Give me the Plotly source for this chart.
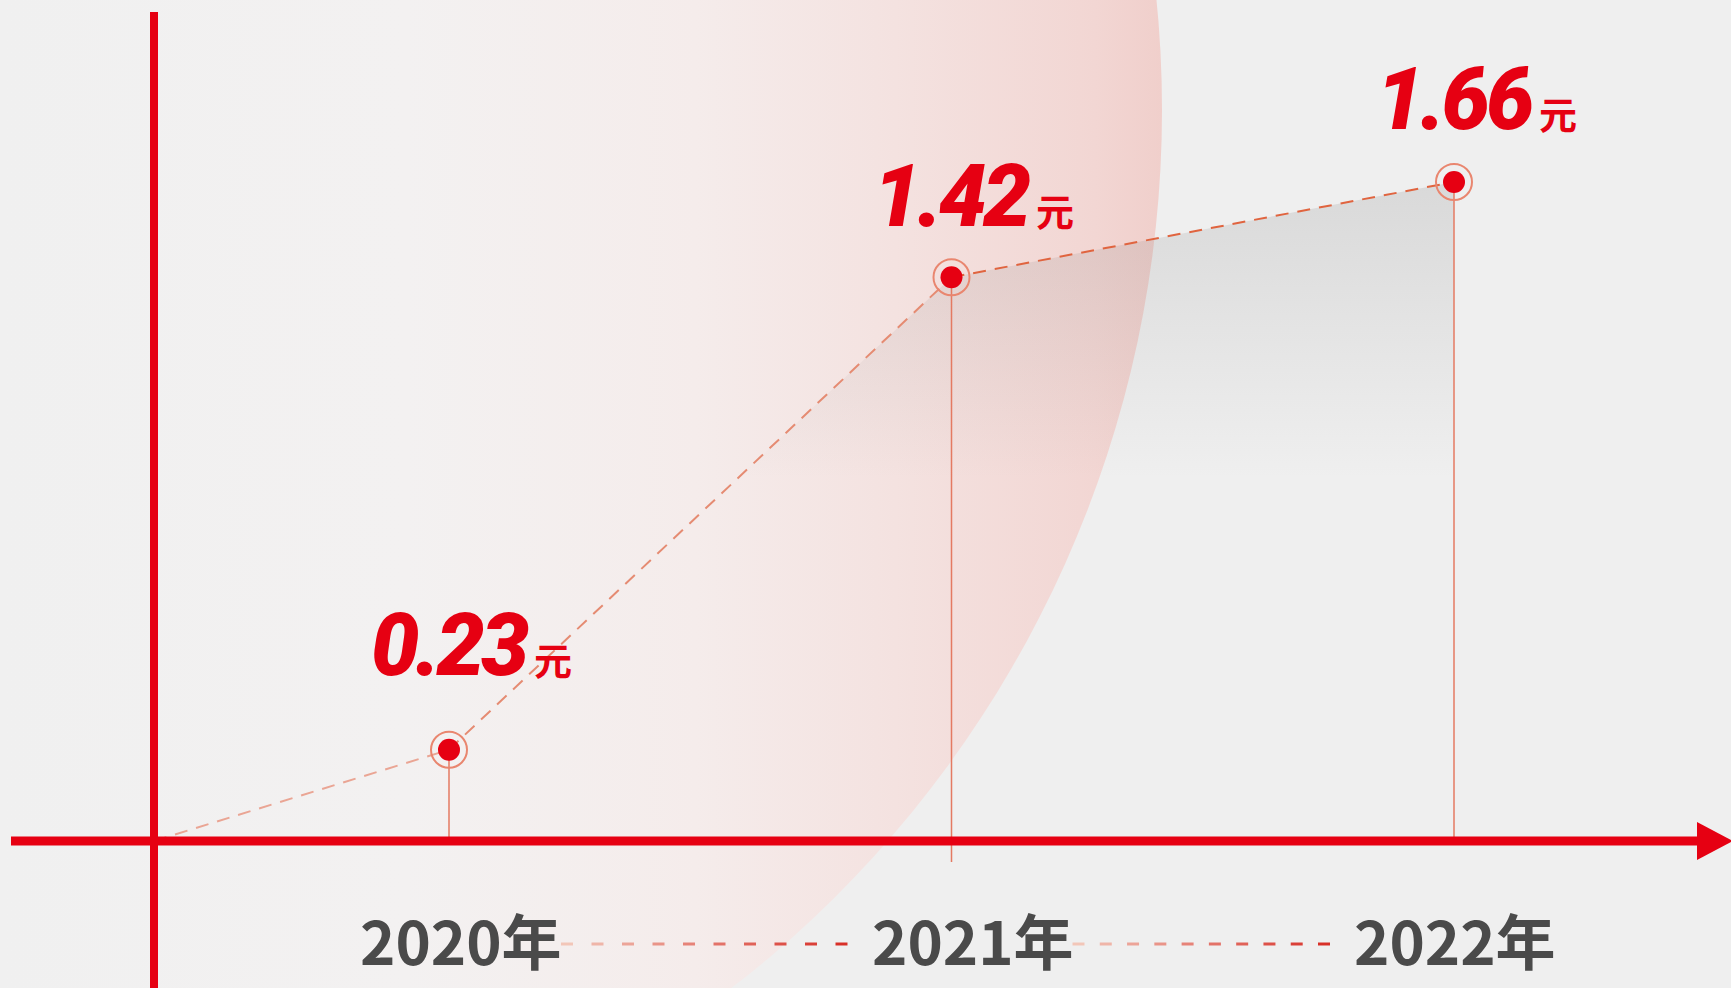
import numpy as np
import plotly.graph_objects as go

# data
years = [2020, 2021, 2022]
year_labels = ["2020年", "2021年", "2022年"]
values = [0.23, 1.42, 1.66]
unit = "元"

W, H = 1731, 988
RED = "#e60012"

# pixel anchors used to lay the data axes over the picture
px_year = 502.5
x_left = years[0] - 449 / px_year
px_unit = 397.0
y_axis_px = 841
origin_x = x_left + 154 / px_year

fig = go.Figure()

# big soft pink circle in the background (pixel axes x/y)
t = np.linspace(0, 2 * np.pi, 240)
cx, cy, r = 51, 110, 1111
fig.add_trace(go.Scatter(
    x=cx + r * np.cos(t), y=cy + r * np.sin(t),
    mode="lines", line=dict(width=0), fill="toself",
    fillgradient=dict(type="horizontal", colorscale=[
        [0, "#efefef"], [0.477, "#f0f0f0"], [0.66, "#f3f1f1"], [0.79, "#f5eceb"],
        [0.88, "#f4e2e0"], [0.97, "#f2d6d3"], [1, "#f0cfcb"]]),
    hoverinfo="skip", showlegend=False, xaxis="x", yaxis="y"))

line_x = [origin_x] + years
line_y = [0] + values

# grey shadow under the line
fig.add_trace(go.Scatter(
    x=line_x, y=line_y, mode="lines", line=dict(width=0), fill="tozeroy",
    fillgradient=dict(type="vertical", colorscale=[
        [0, "rgba(110,110,110,0)"], [0.55, "rgba(110,110,110,0)"],
        [1, "rgba(110,110,110,0.17)"]]),
    hoverinfo="skip", showlegend=False, xaxis="x2", yaxis="y2"))

# drop lines
bottoms = [0, -0.053, 0]
dx, dy = [], []
for yr, v, b in zip(years, values, bottoms):
    dx += [yr, yr, None]
    dy += [b, v, None]
fig.add_trace(go.Scatter(x=dx, y=dy, mode="lines", line=dict(color="#e47a62", width=1.5),
                         hoverinfo="skip", showlegend=False, xaxis="x2", yaxis="y2"))

# dashed trend line, getting stronger to the right
seg_colors = ["#eaa594", "#e58b72", "#e0643f"]
for i in range(len(line_x) - 1):
    fig.add_trace(go.Scatter(x=line_x[i:i + 2], y=line_y[i:i + 2], mode="lines",
                             line=dict(color=seg_colors[i], width=2, dash="13px,9px"),
                             hoverinfo="skip", showlegend=False, xaxis="x2", yaxis="y2"))

# markers: ring + dot
fig.add_trace(go.Scatter(x=years, y=values, mode="markers",
                         marker=dict(size=36, color="rgba(0,0,0,0)",
                                     line=dict(color="#e9866f", width=2)),
                         hoverinfo="skip", showlegend=False, xaxis="x2", yaxis="y2"))
fig.add_trace(go.Scatter(x=years, y=values, mode="markers",
                         marker=dict(size=22, color=RED, line=dict(width=0)),
                         showlegend=False, xaxis="x2", yaxis="y2"))

# axes with arrow
fig.add_shape(type="line", xref="x", yref="y", x0=11, x1=1700, y0=y_axis_px, y1=y_axis_px,
              line=dict(color=RED, width=9))
fig.add_shape(type="line", xref="x", yref="y", x0=154, x1=154, y0=12, y1=H,
              line=dict(color=RED, width=8))
fig.add_shape(type="path", xref="x", yref="y",
              path="M 1697 822 L 1733 841 L 1697 860 Z",
              fillcolor=RED, line=dict(width=0))

# value labels
label_lift = [52, 28, 30]
for yr, v, lift in zip(years, values, label_lift):
    fig.add_annotation(
        x=yr, y=v, xref="x2", yref="y2", xanchor="center", yanchor="bottom",
        xshift=22, yshift=lift, showarrow=False,
        text=(f"<span style='letter-spacing:-4px'>{v:.2f}</span>"
              f"<span style='font-size:38px;font-family:Noto Sans CJK SC;font-style:normal;"
              f"font-weight:700'> {unit}</span>"),
        font=dict(family="Roboto, Liberation Sans, sans-serif", size=86, color=RED,
                  weight=900, style="italic"))

# year labels and the dashed separators between them
year_shift = [12, 21, 1]
lab_px = [449 + (yr - years[0]) * px_year + s for yr, s in zip(years, year_shift)]
for yr, lab, s in zip(years, year_labels, year_shift):
    fig.add_annotation(x=yr, y=938, xref="x2", yref="y", xanchor="center", yanchor="middle",
                       xshift=s, showarrow=False, text=f"<b>{lab}</b>",
                       font=dict(family="Noto Sans CJK SC", size=60, color="#4a4a4a"))

c0 = np.array([242, 198, 184])
c1 = np.array([216, 48, 40])
for i in range(len(years) - 1):
    xs = np.linspace(lab_px[i] + 100, lab_px[i + 1] - 137, 10)
    for k, xs0 in enumerate(xs):
        c = c0 + (c1 - c0) * k / 9
        fig.add_shape(type="line", xref="x", yref="y", x0=xs0, x1=xs0 + 12, y0=944, y1=944,
                      line=dict(color=f"rgb({int(c[0])},{int(c[1])},{int(c[2])})", width=3))

fig.update_layout(
    width=W, height=H, margin=dict(l=0, r=0, t=0, b=0),
    paper_bgcolor="#efefef", plot_bgcolor="#efefef",
    xaxis=dict(range=[0, W], visible=False, fixedrange=True),
    yaxis=dict(range=[H, 0], visible=False, fixedrange=True),
    xaxis2=dict(range=[x_left, x_left + W / px_year], overlaying="x", visible=False),
    yaxis2=dict(range=[-(H - y_axis_px) / px_unit, y_axis_px / px_unit],
                overlaying="y", visible=False),
    showlegend=False,
)

fig.write_html("out.html", config={"displayModeBar": False},
               post_script="document.body.style.margin='0';")
